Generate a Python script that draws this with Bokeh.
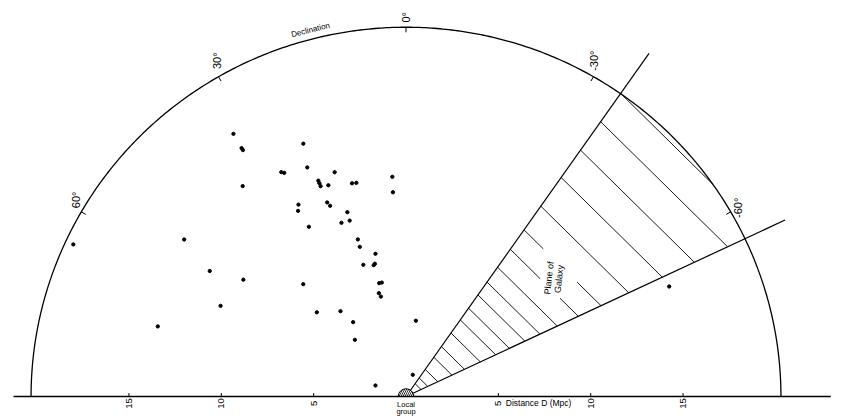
import numpy as np
from bokeh.plotting import figure
from bokeh.models import Range1d
from bokeh.embed import file_html
from bokeh.resources import INLINE
from bokeh.core.properties import value

# ---------------- data ----------------
# galaxies: declination (deg) and distance D (Mpc)
gal_dec = [32.9, 33.1, 33.1, 21.8, 23.0, 28.7, 28.2, 17.4, 21.8, 21.8,
           21.8, 19.9, 14.0, 12.9, 3.5, 3.6, 37.4, 28.9, 29.8, 21.8,
           21.4, 17.4, 17.5, 20.1, 29.4, 54.3, 16.8, 16.9, 11.9, 17.7,
           13.6, 13.0, 57.0, 53.9, 42.0, 13.1, 11.8, 14.5, 13.9, 63.6,
           46.2, 37.1, 35.0, -7.3, 74.0, 41.6, 65.1, 69.9, -17.1, -67.0]
gal_dist = [17.20, 16.30, 16.17, 14.97, 13.68, 14.06, 13.95, 12.92, 12.78, 12.63,
            12.45, 12.35, 12.08, 12.05, 12.10, 11.25, 14.56, 12.05, 11.76, 11.49,
            11.26, 10.62, 10.14, 10.17, 10.71, 14.79, 9.02, 8.60, 8.02, 7.60,
            7.43, 7.49, 12.67, 10.90, 8.31, 6.40, 6.40, 5.87, 5.66, 11.21,
            6.69, 5.88, 4.99, 4.20, 13.98, 4.17, 19.86, 1.76, 1.25, 15.48]

dist_ticks = [-15, -10, -5, 5, 10, 15]
dist_tick_labels = ["15", "10", "5", "5", "10", "15"]

dec_ticks = [60, 30, 0, -30, -60]
dec_tick_labels = ["60°", "30°", "0°", "-30°", "-60°"]

R_OUTER = 20.3                     # Mpc, outer semicircle
plane_dec = [-34.9, -64.7]         # edges of the galactic-plane wedge (deg)
plane_len = [23.0, 22.7]           # length of edge lines (Mpc)
LG_RADIUS = 0.42                   # local group symbol radius (Mpc)
# hatch lines, given by distance where they meet the lower edge (Mpc)
hatch_r = [0.9, 1.3, 1.9, 2.75, 3.5, 4.45, 5.37, 6.19, 7.12, 8.02, 9.06,
           10.32, 11.68, 13.34, 15.35, 17.27, 19.26, 21.24]
hatch_gaps = {10.32: (0.44, 0.73), 11.68: (0.25, 0.69)}

FONT = value("Liberation Sans")


def polar(dec, d):
    dec = np.radians(np.asarray(dec, dtype=float))
    d = np.asarray(d, dtype=float)
    return -d * np.sin(dec), d * np.cos(dec)


# ---------------- figure ----------------
p = figure(width=845, height=420,
           x_range=Range1d(-21.955, 23.795), y_range=Range1d(-1.319, 21.770),
           output_backend="svg", toolbar_location=None,
           x_axis_location=None, y_axis_location=None, min_border=0)
p.grid.visible = False
p.outline_line_color = None
p.background_fill_color = "white"

# baseline with distance ticks
p.segment(x0=[-21.25], y0=[0], x1=[23.0], y1=[0], line_color="black", line_width=1.5)
p.segment(x0=dist_ticks, y0=[0] * len(dist_ticks), x1=dist_ticks,
          y1=[0.19] * len(dist_ticks), line_color="black", line_width=1)
p.text(x=dist_ticks, y=[-0.38] * len(dist_ticks), text=dist_tick_labels,
       angle=np.pi / 2, text_align="center", text_baseline="middle",
       text_font=FONT, text_font_size="9.5px", text_color="black")

p.text(x=[0], y=[-0.18], text=["Local\ngroup"], text_align="center",
       text_baseline="top", text_font=FONT, text_font_size="7.5px",
       text_line_height=0.85, text_color="black")
p.text(x=[5.4], y=[-0.33], text=["Distance D (Mpc)"], text_align="left",
       text_baseline="middle", text_font=FONT, text_font_size="8.5px", text_color="black")

# outer semicircle
t = np.linspace(0, np.pi, 400)
p.line(R_OUTER * np.cos(t), R_OUTER * np.sin(t), line_color="black", line_width=1.3)

# declination ticks and labels
tx0, ty0 = polar(dec_ticks, [R_OUTER] * len(dec_ticks))
tx1, ty1 = polar(dec_ticks, [R_OUTER - 0.28] * len(dec_ticks))
p.segment(x0=tx0, y0=ty0, x1=tx1, y1=ty1, line_color="black", line_width=1)
lab_dx = [-5, -2, 0, 1, 7]
lab_dy = [12, 16, 10, 16, 4]
p.text(x=tx0, y=ty0, text=dec_tick_labels, x_offset=lab_dx, y_offset=[-v for v in lab_dy],
       angle=np.pi / 2, text_align="center", text_baseline="middle",
       text_font=FONT, text_font_size="11px", text_color="black")
dlx, dly = polar([14.4], [R_OUTER + 0.5])
p.text(x=dlx, y=dly, text=["Declination"], angle=np.radians(14.4),
       text_align="center", text_baseline="middle", text_font=FONT,
       text_font_size="8px", text_color="black")

# local group symbol
p.wedge(x=[0], y=[0], radius=LG_RADIUS, start_angle=0, end_angle=np.pi,
        fill_color=None, line_color="black", line_width=1,
        hatch_pattern="\\", hatch_color="black", hatch_scale=4, hatch_weight=0.8)

# galactic plane wedge edges
ex0, ey0 = polar(plane_dec, [LG_RADIUS] * 2)
ex1, ey1 = polar(plane_dec, plane_len)
p.segment(x0=ex0, y0=ey0, x1=ex1, y1=ey1, line_color="black", line_width=1.2)

# hatch lines (at 45 degrees), clipped to the outer circle
su, cu = np.sin(np.radians(-plane_dec[0])), np.cos(np.radians(-plane_dec[0]))
sl, cl = np.sin(np.radians(-plane_dec[1])), np.cos(np.radians(-plane_dec[1]))
hx0, hy0, hx1, hy1 = [], [], [], []
for r in hatch_r:
    c = r * (sl + cl)
    tt = c / (su + cu)
    U = np.array([tt * su, tt * cu])
    L = np.array([r * sl, r * cl])
    d = L - U
    a = d @ d
    b = 2 * U @ d
    c0 = U @ U - R_OUTER ** 2
    disc = b * b - 4 * a * c0
    if disc <= 0:
        continue
    s1 = (-b - np.sqrt(disc)) / (2 * a)
    s2 = (-b + np.sqrt(disc)) / (2 * a)
    lo, hi = max(0.0, s1), min(1.0, s2)
    if hi <= lo:
        continue
    parts = [(lo, hi)]
    if r in hatch_gaps:
        g0, g1 = hatch_gaps[r]
        parts = [(lo, g0), (g1, hi)]
    for s_a, s_b in parts:
        A = U + s_a * d
        B = U + s_b * d
        hx0.append(A[0]); hy0.append(A[1]); hx1.append(B[0]); hy1.append(B[1])
p.segment(x0=hx0, y0=hy0, x1=hx1, y1=hy1, line_color="black", line_width=0.9)

p.text(x=[8.01], y=[6.49], text=["Plane of\nGalaxy"], angle=np.radians(84),
       text_align="center", text_baseline="middle", text_font=FONT,
       text_font_size="9px", text_line_height=1.0, text_color="black")

# galaxies
gx, gy = polar(gal_dec, gal_dist)
p.scatter(x=gx, y=gy, size=3.3, marker="circle", fill_color="black", line_color="black")

open("out.html", "w").write(file_html(p, INLINE))
